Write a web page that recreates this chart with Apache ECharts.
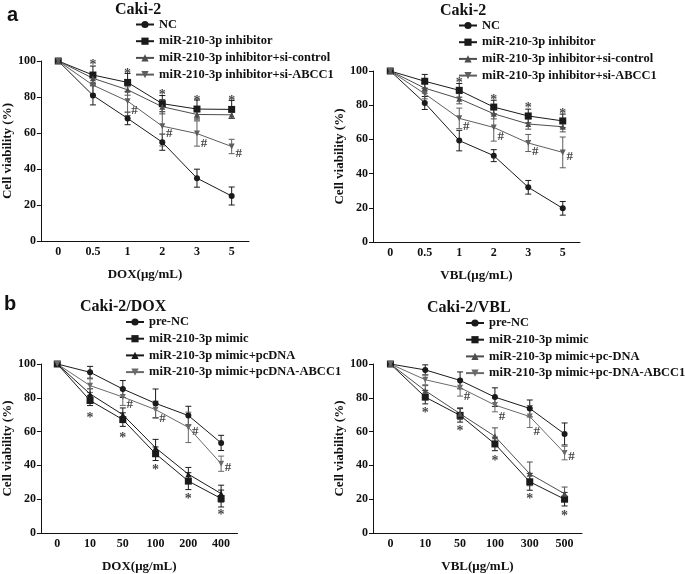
<!DOCTYPE html>
<html>
<head>
<meta charset="utf-8">
<script src="https://cdn.jsdelivr.net/npm/echarts@6/dist/echarts.min.js"></script>
<style>html,body{margin:0;padding:0;background:#fff;}#c{width:685px;height:574px;}</style>
</head>
<body>
<div id="c"></div>
<script>
// ---------- categories ----------
var catsA = ['0', '0.5', '1', '2', '3', '5'];
var catsB1 = ['0', '10', '50', '100', '200', '400'];
var catsB2 = ['0', '10', '50', '100', '300', '500'];
var yTicks = [0, 20, 40, 60, 80, 100];

// ---------- series names ----------
var namesA = ['NC', 'miR-210-3p inhibitor', 'miR-210-3p inhibitor+si-control', 'miR-210-3p inhibitor+si-ABCC1'];
var namesB1 = ['pre-NC', 'miR-210-3p mimic', 'miR-210-3p mimic+pcDNA', 'miR-210-3p mimic+pcDNA-ABCC1'];
var namesB2 = ['pre-NC', 'miR-210-3p mimic', 'miR-210-3p mimic+pc-DNA', 'miR-210-3p mimic+pc-DNA-ABCC1'];

// ---------- panel a, DOX ----------
var ncA1 = [100, 80.9, 68.1, 54.9, 34.9, 25.0];
var inhA1 = [100, 92.2, 88.1, 76.3, 73.3, 73.1];
var ctlA1 = [100, 90.4, 84.0, 74.6, 70.3, 70.1];
var abcA1 = [100, 86.6, 77.7, 63.8, 59.7, 52.5];
var ncA1Err = [0, 5.3, 3.5, 4.5, 5.0, 5.0];
var inhA1Err = [0, 5.0, 5.0, 4.5, 5.0, 5.0];
var ctlA1Err = [0, 3, 3, 4, 3, 2];
var abcA1Err = [0, 5, 8, 11, 7, 4];
var starA1 = [[1, 99.6], [2, 94.8], [3, 83.3], [4, 80.0], [5, 80.0]];
var hashA1 = [[2, 72.7], [3, 60.3], [4, 54.7], [5, 49.0]];

// ---------- panel a, VBL ----------
var ncA2 = [100, 81.3, 59.3, 50.5, 32.0, 19.7];
var inhA2 = [100, 94.0, 88.7, 78.9, 73.7, 70.8];
var ctlA2 = [100, 90.0, 83.8, 75.0, 69.0, 67.4];
var abcA2 = [100, 86.7, 72.3, 67.0, 57.9, 52.4];
var ncA2Err = [0, 3.8, 6, 3.5, 4, 4];
var inhA2Err = [0, 4, 4, 4, 4, 4];
var ctlA2Err = [0, 3, 3, 3, 3, 3];
var abcA2Err = [0, 3, 6, 8, 5, 9];
var starA2 = [[1, 100.8], [2, 95.0], [3, 85.2], [4, 80.3], [5, 76.8]];
var hashA2 = [[2, 68.0], [3, 62.2], [4, 53.6], [5, 50.5]];

// ---------- panel b, Caki-2/DOX ----------
var preB1 = [100, 95.1, 85.2, 76.7, 69.5, 53.3];
var mimB1 = [100, 78.4, 67.1, 46.9, 30.7, 20.4];
var pcB1 = [100, 82.3, 70.0, 50.4, 34.8, 23.3];
var abcB1 = [100, 87.2, 80.5, 73.0, 62.5, 41.0];
var preB1Err = [0, 3.5, 5, 8.5, 5.5, 4.5];
var mimB1Err = [0, 3, 4, 4, 5, 5];
var pcB1Err = [0, 3, 4, 5, 4, 5];
var abcB1Err = [0, 4, 5, 5, 9, 4.5];
var starB1 = [[1, 70.2], [2, 58.6], [3, 39.5], [4, 22.0], [5, 12.8]];
var hashB1 = [[2, 76.5], [3, 68.3], [4, 60.5], [5, 39.1]];

// ---------- panel b, Caki-2/VBL ----------
var preB2 = [100, 96.5, 90.3, 80.4, 73.7, 58.6];
var mimB2 = [100, 80.4, 69.6, 52.7, 30.3, 20.0];
var pcB2 = [100, 84.2, 70.6, 57.2, 35.0, 23.2];
var abcB2 = [100, 90.7, 86.0, 75.7, 68.9, 47.3];
var preB2Err = [0, 3, 5, 5.5, 5, 6.5];
var mimB2Err = [0, 4, 4, 4, 5, 4];
var pcB2Err = [0, 3, 3.5, 5, 7, 4];
var abcB2Err = [0, 3, 5, 4, 6.5, 4];
var starB2 = [[1, 73.2], [2, 62.5], [3, 44.9], [4, 22.0], [5, 12.3]];
var hashB2 = [[2, 81.0], [3, 69.3], [4, 60.5], [5, 45.9]];

// ---------- build ----------
var SERIF = 'Liberation Serif';
var symbols = ['circle', 'rect', 'triangle', 'triangle'];
var rotates = [0, 0, 0, 180];
var sizes = [6, 7, 6, 6];

var panels = [
  { grid: {left: 33, top: 61, width: 216, height: 180}, cats: catsA, names: namesA,
    vals: [ncA1, inhA1, ctlA1, abcA1], errs: [ncA1Err, inhA1Err, ctlA1Err, abcA1Err],
    colors: ['#1a1a1a', '#1a1a1a', '#4d4d4d', '#5e5e5e'], stars: starA1, hashes: hashA1,
    xname: 'DOX(\u03bcg/mL)', title: 'Caki-2', titlePos: [115, 2], legendPos: [135, 18] },
  { grid: {left: 373, top: 71, width: 207, height: 171}, cats: catsA, names: namesA,
    vals: [ncA2, inhA2, ctlA2, abcA2], errs: [ncA2Err, inhA2Err, ctlA2Err, abcA2Err],
    colors: ['#1a1a1a', '#1a1a1a', '#4d4d4d', '#5e5e5e'], stars: starA2, hashes: hashA2,
    xname: 'VBL(\u03bcg/mL)', title: 'Caki-2', titlePos: [440, 3], legendPos: [458, 19] },
  { grid: {left: 32.5, top: 364, width: 205, height: 170}, cats: catsB1, names: namesB1,
    vals: [preB1, mimB1, pcB1, abcB1], errs: [preB1Err, mimB1Err, pcB1Err, abcB1Err],
    colors: ['#1a1a1a', '#1a1a1a', '#1a1a1a', '#6a6a6a'], stars: starB1, hashes: hashB1,
    xname: 'DOX(\u03bcg/mL)', title: 'Caki-2/DOX', titlePos: [80, 299], legendPos: [125, 315.5] },
  { grid: {left: 373, top: 364, width: 209, height: 170}, cats: catsB2, names: namesB2,
    vals: [preB2, mimB2, pcB2, abcB2], errs: [preB2Err, mimB2Err, pcB2Err, abcB2Err],
    colors: ['#1a1a1a', '#1a1a1a', '#4d4d4d', '#6a6a6a'], stars: starB2, hashes: hashB2,
    xname: 'VBL(\u03bcg/mL)', title: 'Caki-2/VBL', titlePos: [427, 300], legendPos: [465, 316.5] }
];

var grids = [], xAxes = [], yAxes = [], series = [], legends = [];
var titles = [
  {text: 'a', left: 7, top: 5, padding: 0, textStyle: {fontFamily: 'Liberation Sans', fontWeight: 'bold', fontSize: 20, color: '#111'}},
  {text: 'b', left: 4, top: 294, padding: 0, textStyle: {fontFamily: 'Liberation Sans', fontWeight: 'bold', fontSize: 20, color: '#111'}}
];

function errRender(color) {
  return function (params, api) {
    var x = api.value(0), hi = api.value(1), lo = api.value(2);
    if (hi === lo) return null;
    var p1 = api.coord([x, hi]), p2 = api.coord([x, lo]);
    var w = 3;
    var st = {stroke: color, lineWidth: 1};
    return {type: 'group', children: [
      {type: 'line', shape: {x1: p1[0], y1: p1[1], x2: p2[0], y2: p2[1]}, style: st},
      {type: 'line', shape: {x1: p1[0] - w, y1: p1[1], x2: p1[0] + w, y2: p1[1]}, style: st},
      {type: 'line', shape: {x1: p2[0] - w, y1: p2[1], x2: p2[0] + w, y2: p2[1]}, style: st}
    ]};
  };
}

panels.forEach(function (p, k) {
  grids.push(p.grid);
  xAxes.push({
    type: 'category', gridIndex: k, data: p.cats, boundaryGap: true,
    name: p.xname, nameLocation: 'middle', nameGap: 27,
    nameTextStyle: {fontFamily: SERIF, fontWeight: 'bold', fontSize: 13, color: '#111'},
    axisLine: {lineStyle: {color: '#111', width: 1}},
    axisTick: {alignWithLabel: true, length: 4, lineStyle: {color: '#111'}},
    axisLabel: {margin: 5, fontFamily: SERIF, fontWeight: 'bold', fontSize: 12, color: '#111'},
    splitLine: {show: false}
  });
  yAxes.push({
    type: 'value', gridIndex: k, min: yTicks[0], max: yTicks[yTicks.length - 1], interval: yTicks[1] - yTicks[0],
    name: 'Cell viability (%)', nameLocation: 'middle', nameGap: 20, nameRotate: 90,
    nameTextStyle: {fontFamily: SERIF, fontWeight: 'bold', fontSize: 13, color: '#111'},
    axisLine: {show: true, lineStyle: {color: '#111', width: 1}},
    axisTick: {show: true, length: 4, lineStyle: {color: '#111'}},
    axisLabel: {margin: 5, fontFamily: SERIF, fontWeight: 'bold', fontSize: 12, color: '#111'},
    splitLine: {show: false}
  });
  titles.push({text: p.title, left: p.titlePos[0], top: p.titlePos[1], padding: 0,
    textStyle: {fontFamily: SERIF, fontWeight: 'bold', fontSize: 16, color: '#111'}});
  legends.push({
    orient: 'vertical', left: p.legendPos[0], top: p.legendPos[1], padding: 0,
    itemWidth: 18, itemHeight: 9, itemGap: 3.7, data: p.names, selectedMode: false,
    textStyle: {fontFamily: SERIF, fontWeight: 'bold', fontSize: 12.5, color: '#111', lineHeight: 13}
  });
  p.vals.forEach(function (v, j) {
    series.push({
      type: 'line', name: p.names[j], xAxisIndex: k, yAxisIndex: k, data: v,
      symbol: symbols[j], symbolSize: sizes[j], symbolRotate: rotates[j], showSymbol: true,
      lineStyle: {color: p.colors[j], width: 1}, itemStyle: {color: p.colors[j]},
      z: 3, animation: false
    });
    var ed = v.map(function (y, i) { return [i, y + p.errs[j][i], y - p.errs[j][i]]; });
    series.push({
      type: 'custom', xAxisIndex: k, yAxisIndex: k, data: ed, renderItem: errRender(p.colors[j]),
      z: 2, silent: true, animation: false, encode: {x: 0, y: [1, 2]}
    });
  });
  series.push({
    type: 'scatter', xAxisIndex: k, yAxisIndex: k, data: p.stars, symbolSize: 0, silent: true, animation: false,
    label: {show: true, position: 'inside', formatter: '*', offset: [0, 4], fontFamily: SERIF, fontWeight: 'bold', fontSize: 14, color: '#111'}
  });
  series.push({
    type: 'scatter', xAxisIndex: k, yAxisIndex: k, data: p.hashes, symbolSize: 0, silent: true, animation: false,
    label: {show: true, position: 'inside', formatter: '#', offset: [7, 1], fontFamily: SERIF, fontWeight: 'bold', fontSize: 13, color: '#111'}
  });
});

var chart = echarts.init(document.getElementById('c'), null, {renderer: 'canvas'});
chart.setOption({
  backgroundColor: '#fff',
  animation: false,
  textStyle: {fontFamily: SERIF},
  title: titles, legend: legends, grid: grids, xAxis: xAxes, yAxis: yAxes, series: series
});
</script>
</body>
</html>
